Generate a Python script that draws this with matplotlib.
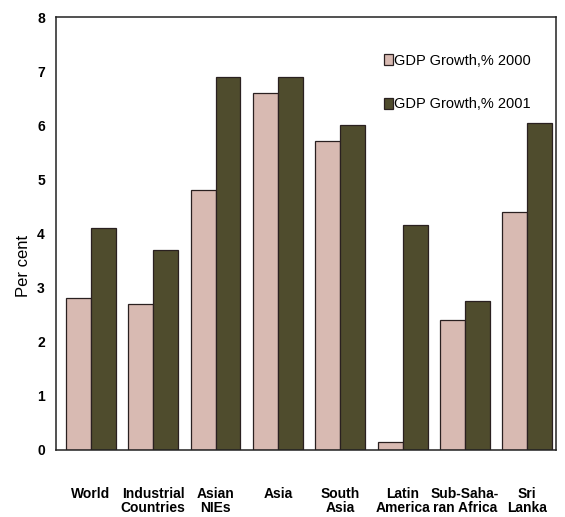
import numpy as np
import matplotlib.pyplot as plt

categories = ['World', 'Industrial\nCountries', 'Asian\nNIEs', 'Asia', 'South\nAsia',
              'Latin\nAmerica', 'Sub-Saha-\nran Africa', 'Sri\nLanka']
gdp_2000 = [2.8, 2.7, 4.8, 6.6, 5.7, 0.15, 2.4, 4.4]
gdp_2001 = [4.1, 3.7, 6.9, 6.9, 6.0, 4.15, 2.75, 6.05]
labels = ['GDP Growth,% 2000', 'GDP Growth,% 2001']

plt.rcParams['font.family'] = ['Liberation Sans', 'DejaVu Sans']

fig = plt.figure(figsize=(5.65, 5.17), dpi=100)
ax = fig.add_axes([0.099, 0.13, 0.885, 0.837])

x = np.arange(len(categories))
w = 0.4
ax.bar(x - w / 2, gdp_2000, w, color='#d8bab2', edgecolor='#2a2020', linewidth=0.9,
       label=labels[0])
ax.bar(x + w / 2, gdp_2001, w, color='#4f4c2d', edgecolor='#2a2020', linewidth=0.9,
       label=labels[1])

ax.set_xlim(-0.56, 7.46)
ax.set_ylim(0, 8)
ax.set_yticks(range(0, 9))
ax.set_xticks(x)
ax.set_xticklabels(categories, fontsize=10, fontweight='bold', linespacing=1.0)
ax.tick_params(axis='x', length=0, pad=27)
ax.tick_params(axis='y', length=0, pad=8, labelsize=10)
for t in ax.get_yticklabels():
    t.set_fontweight('bold')
for s in ax.spines.values():
    s.set_linewidth(1.1)
    s.set_color('#222222')

ax.set_ylabel('Per cent', fontsize=12)
ax.yaxis.set_label_coords(-0.05, 0.425)

leg = ax.legend(loc='upper left', bbox_to_anchor=(0.63, 0.945), frameon=False,
                handlelength=0.6, handleheight=0.8, handletextpad=0.1,
                labelspacing=2.0, fontsize=10.5)

fig.savefig('out.png', dpi=100)
